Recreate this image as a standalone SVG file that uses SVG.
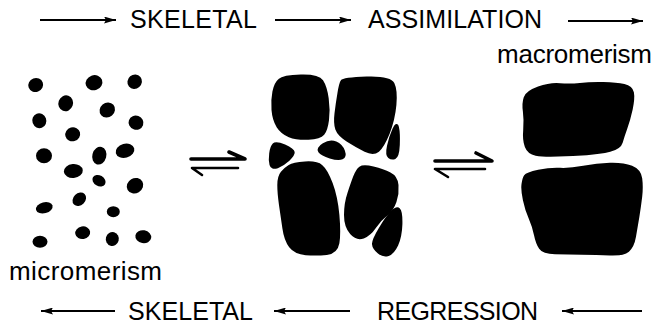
<svg xmlns="http://www.w3.org/2000/svg" width="656" height="329" viewBox="0 0 656 329">
  <style>
    .lbl { font-family: "Liberation Sans", Arial, sans-serif; font-size: 25px; fill: #000; }
    .sm { font-family: "Liberation Sans", Arial, sans-serif; font-size: 26px; fill: #000; }
    .flow { stroke: #000; stroke-width: 1.8; fill: none; marker-end: url(#head); }
    .blob { fill: #000; stroke: #000; stroke-width: 2; stroke-linejoin: round; }
    .harp { stroke: #000; fill: none; stroke-linecap: round; stroke-linejoin: round; }
  </style>
  <defs>
    <marker id="head" viewBox="0 0 12 7" markerWidth="12" markerHeight="7" markerUnits="userSpaceOnUse" refX="12" refY="3.5" orient="auto">
      <path d="M0,0 L12,3.5 L0,7 L2,3.5 Z" fill="#000"/>
    </marker>
  </defs>
  <rect width="656" height="329" fill="#fff"/>

  <!-- process labels -->
  <g id="labels">
    <text class="lbl" x="130" y="28" textLength="127">SKELETAL</text>
    <text class="lbl" x="368" y="28" textLength="174">ASSIMILATION</text>
    <text class="lbl" x="128" y="320" textLength="125">SKELETAL</text>
    <text class="lbl" x="377" y="320" textLength="161">REGRESSION</text>
  </g>

  <!-- flow arrows and equilibrium harpoons -->
  <g id="connectors">
    <line class="flow" x1="40" y1="20" x2="116" y2="20"/>
    <line class="flow" x1="275" y1="20" x2="351" y2="20"/>
    <line class="flow" x1="568" y1="21" x2="643" y2="21"/>
    <line class="flow" x1="115" y1="311" x2="41" y2="311"/>
    <line class="flow" x1="350" y1="311" x2="274" y2="311"/>
    <line class="flow" x1="642" y1="311" x2="562" y2="311"/>

    <g id="equilibrium-1">
      <path class="harp" stroke-width="3.6" d="M191,159 L245,159 L229,152"/>
      <path class="harp" stroke-width="2.6" d="M238,168 L192,168 L202,175"/>
    </g>
    <g id="equilibrium-2">
      <path class="harp" stroke-width="3.6" d="M435,161 L492,161 L476,153"/>
      <path class="harp" stroke-width="2.6" d="M485,169 L435,169 L448,177"/>
    </g>
  </g>

  <!-- small scattered elements -->
  <g id="micromerism">
    <ellipse cx="35.7" cy="85" rx="7.5" ry="7" transform="rotate(-20 35.7 85)"/>
    <ellipse cx="94" cy="82.7" rx="8.5" ry="7.5" transform="rotate(-20 94 82.7)"/>
    <ellipse cx="134.7" cy="81.7" rx="7.5" ry="7" transform="rotate(-40 134.7 81.7)"/>
    <ellipse cx="65.7" cy="103.3" rx="7.3" ry="8" transform="rotate(20 65.7 103.3)"/>
    <ellipse cx="107.3" cy="110" rx="8" ry="7.3" transform="rotate(-40 107.3 110)"/>
    <ellipse cx="39.3" cy="120.7" rx="7" ry="7.5" transform="rotate(-20 39.3 120.7)"/>
    <ellipse cx="136" cy="122.7" rx="7.5" ry="7" transform="rotate(20 136 122.7)"/>
    <ellipse cx="72.7" cy="134.3" rx="7.5" ry="7" transform="rotate(-15 72.7 134.3)"/>
    <ellipse cx="44" cy="155.7" rx="8" ry="7.5"/>
    <ellipse cx="99.3" cy="155.7" rx="7" ry="9" transform="rotate(15 99.3 155.7)"/>
    <ellipse cx="125" cy="150.7" rx="9.5" ry="7" transform="rotate(-15 125 150.7)"/>
    <ellipse cx="73.3" cy="171" rx="9.5" ry="7" transform="rotate(-5 73.3 171)"/>
    <ellipse cx="99" cy="180.7" rx="7" ry="5.3" transform="rotate(30 99 180.7)"/>
    <ellipse cx="135" cy="185.7" rx="8.5" ry="7.5" transform="rotate(-30 135 185.7)"/>
    <ellipse cx="44.3" cy="207.7" rx="8.5" ry="5.5" transform="rotate(-15 44.3 207.7)"/>
    <ellipse cx="79.3" cy="199.3" rx="7.5" ry="6" transform="rotate(-45 79.3 199.3)"/>
    <ellipse cx="113.3" cy="211.7" rx="6.5" ry="5.5"/>
    <ellipse cx="40" cy="241.7" rx="7.5" ry="6"/>
    <ellipse cx="82.7" cy="232.7" rx="7.5" ry="6.3" transform="rotate(-10 82.7 232.7)"/>
    <ellipse cx="112.3" cy="239" rx="6.5" ry="7" transform="rotate(15 112.3 239)"/>
    <ellipse cx="143.3" cy="236.7" rx="8" ry="6.5" transform="rotate(10 143.3 236.7)"/>
  </g>

  <!-- intermediate packed elements -->
  <g id="intermediate">
    <path class="blob" d="M300.8,75.5 Q318.3,75 322.2,80.9 Q326,86.7 327.7,98.4 Q329.3,110 328,120 Q326.7,130 323.4,134.2 Q320,138.3 308.4,138.8 Q296.7,139.3 289.2,136.3 Q281.7,133.3 277.5,126.7 Q273.3,120 272.5,110 Q271.7,100 273.4,91.7 Q275,83.3 279.2,79.7 Q283.3,76 300.8,75.5 Z"/>
    <path class="blob" d="M366.7,77.5 Q390,76.7 393.4,83.4 Q396.7,90 395.4,105 Q394,120 388.7,133.4 Q383.3,146.7 378.3,150.9 Q373.3,155 365,150.9 Q356.7,146.7 347.5,140.9 Q338.3,135 336.3,129.2 Q334.3,123.3 335.5,113.3 Q336.7,103.3 338.4,93.3 Q340,83.3 341.7,80.8 Q343.3,78.3 366.7,77.5 Z"/>
    <path class="blob" d="M398,127.5 Q399.3,133.3 398.8,145 Q398.3,156.7 395,158 Q391.7,159.3 388.9,157.2 Q386,155 388,145.9 Q390,136.7 393.4,129.2 Q396.7,121.7 398,127.5 Z"/>
    <path class="blob" d="M284.7,145.5 Q293.3,149.3 293.7,152.2 Q294,155 288.7,160 Q283.3,165 277.5,167.2 Q271.7,169.3 270.5,164.7 Q269.3,160 270.2,153.4 Q271,146.7 273.5,144.2 Q276,141.7 284.7,145.5 Z"/>
    <path class="blob" d="M335.9,142.5 Q341.7,145 343.9,150.9 Q346,156.7 342.2,158.4 Q338.3,160 330,157.5 Q321.7,155 319.2,151.7 Q316.7,148.3 323.4,144.2 Q330,140 335.9,142.5 Z"/>
    <path class="blob" d="M305,162.5 Q316.7,161.7 321.7,165.9 Q326.7,170 331.7,183.4 Q336.7,196.7 338.4,215 Q340,233.3 338.4,243 Q336.7,252.7 326.7,253.9 Q316.7,255 305.9,254.2 Q295,253.3 290,246.7 Q285,240 283.4,228.4 Q281.7,216.7 280,205 Q278.3,193.3 278.3,185 Q278.3,176.7 281.7,172.5 Q285,168.3 289.2,165.8 Q293.3,163.3 305,162.5 Z"/>
    <path class="blob" d="M373.3,167.5 Q383.3,170 390,173.4 Q396.7,176.7 397.5,185 Q398.3,193.3 395.5,201.7 Q392.7,210 386.4,215 Q380,220 375,227.5 Q370,235 363.4,237.5 Q356.7,240 350.9,233.4 Q345,226.7 345,215 Q345,203.3 348.4,193.3 Q351.7,183.3 354.2,176.7 Q356.7,170 360,167.5 Q363.3,165 373.3,167.5 Z"/>
    <path class="blob" d="M399.2,209.2 Q401.7,211.7 401.4,224.2 Q401,236.7 397.2,245 Q393.3,253.3 388.3,255 Q383.3,256.7 378.3,252.5 Q373.3,248.3 373,244.2 Q372.7,240 379.7,228.4 Q386.7,216.7 391.7,211.7 Q396.7,206.7 399.2,209.2 Z"/>
  </g>

  <!-- large fused elements -->
  <g id="macromerism">
    <path class="blob" d="M538.4,87.5 Q550,83.3 560,84.2 Q570,85 580,83.9 Q590,82.7 603.4,83 Q616.7,83.3 624.2,85 Q631.7,86.7 632.9,92.5 Q634,98.3 631.7,109.2 Q629.3,120 626.3,128.4 Q623.3,136.7 621.7,142.5 Q620,148.3 610,150.8 Q600,153.3 586.7,154.2 Q573.3,155 558.3,155.5 Q543.3,156 535.8,154.7 Q528.3,153.3 525.8,146.7 Q523.3,140 524.2,130 Q525,120 523.9,111.7 Q522.7,103.3 524.7,97.5 Q526.7,91.7 538.4,87.5 Z"/>
    <path class="blob" d="M538.4,170.8 Q550,168.3 560,168.8 Q570,169.3 583.4,166.7 Q596.7,164 610,163.7 Q623.3,163.3 631.7,166.7 Q640,170 641.2,178.4 Q642.3,186.7 641.2,196.7 Q640,206.7 638.4,216.7 Q636.7,226.7 635,236.7 Q633.3,246.7 628.3,250.9 Q623.3,255 610,254.5 Q596.7,254 581.7,253.7 Q566.7,253.3 555,253.3 Q543.3,253.3 540,248.3 Q536.7,243.3 535,235 Q533.3,226.7 529.7,218.4 Q526,210 523.9,200 Q521.7,190 522.5,184.2 Q523.3,178.3 525,175.8 Q526.7,173.3 538.4,170.8 Z"/>
  </g>

  <g id="state-labels">
    <text class="sm" x="9" y="280" textLength="153">micromerism</text>
    <text class="sm" x="497" y="63" textLength="155">macromerism</text>
  </g>
</svg>
